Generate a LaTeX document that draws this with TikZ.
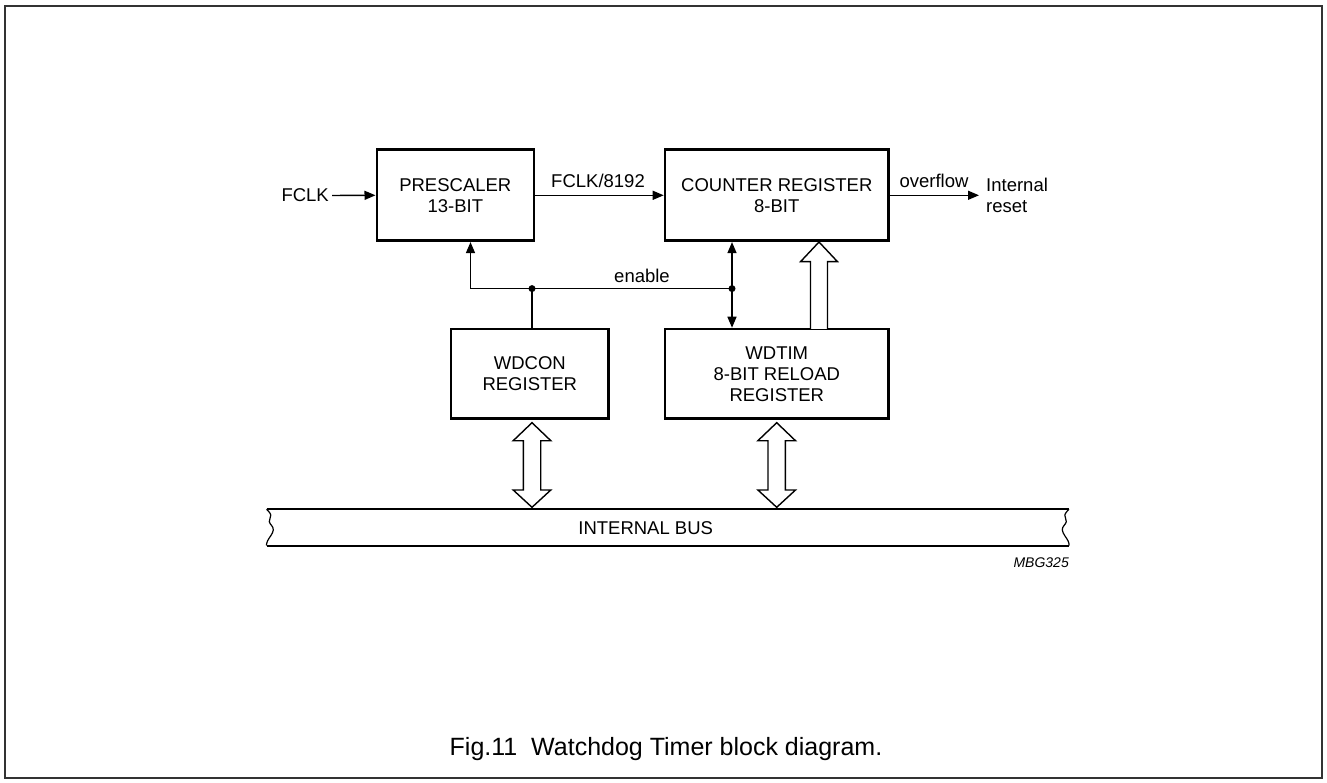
\documentclass[tikz,border=0pt]{standalone}
\usepackage{fontspec}
\setmainfont{Liberation Sans}
\usetikzlibrary{arrows.meta,calc}
\begin{document}
\begin{tikzpicture}[x=1pt,y=-1pt,
  blk/.style={draw,line width=2.6pt,inner sep=0pt,align=center,font=\fontsize{18.5}{21}\selectfont},
  sig/.style={line width=1.4pt},
  arr/.style={sig,-{Triangle[length=11pt,width=9pt]}},
  darr/.style={sig,{Triangle[length=11pt,width=9pt]}-{Triangle[length=11pt,width=9pt]}},
  lbl/.style={inner sep=0pt,font=\fontsize{18.5}{21}\selectfont},
  hollow/.style={draw,line width=1.4pt,fill=white,line join=miter},
  dotnode/.style={circle,fill,inner sep=0pt,minimum size=7pt},
  busline/.style={line width=2pt},
  wave/.style={line width=1.2pt}
]
\useasboundingbox (0,0) rectangle (1327,783);
\draw[line width=1.5pt,black!80] (5,6) rectangle (1322,778);

% blocks
\node[blk,minimum width=157pt,minimum height=91pt] (presc) at (455.3,195.3) {PRESCALER\\13-BIT};
\node[blk,minimum width=223.6pt,minimum height=91pt] (cnt) at (776.8,195.3) {COUNTER REGISTER\\8-BIT};
\node[blk,minimum width=157.5pt,minimum height=89.5pt] (wdcon) at (529.8,373.8) {WDCON\\REGISTER};
\node[blk,minimum width=223.6pt,minimum height=89.5pt] (wdtim) at (776.8,373.8) {WDTIM\\8-BIT RELOAD\\REGISTER};

% clock path
\node[lbl,anchor=east] (fclk) at (329,195.5) {FCLK};
\draw[arr,shorten <=3pt] (fclk.east) -- (presc.west);
\draw[arr] (presc.east) -- (cnt.west);
\node[lbl] (f8192) at (598,181) {FCLK/8192};
\coordinate (out) at (979,195.3);
\draw[arr] (cnt.east) -- (out);
\node[lbl] (ovf) at (934,181) {overflow};
\node[lbl,anchor=west,align=left] (ires) at (986,195) {Internal\\reset};

% enable
\coordinate (pL) at (470.5,288.6);
\coordinate (j1) at (532,288.6);
\coordinate (j2) at (732,288.6);
\draw[sig] (j2) -- (pL);
\draw[arr] (pL) -- (pL |- presc.south);
\draw[sig] (wdcon.north -| j1) -- (j1);
\draw[darr] (j2 |- wdtim.north) -- (j2 |- cnt.south);
\node[dotnode] (d1) at (j1) {};
\node[dotnode] (d2) at (j2) {};
\node[lbl] (en) at (642,276) {enable};

% reload hollow arrow
\draw[hollow] (810.5,329) -- (810.5,261.7) -- (800.5,261.7) -- (819,242) -- (837.5,261.7) -- (827.5,261.7) -- (827.5,329);

% bidirectional hollow arrows
\foreach \c in {532,776.7}
  \draw[hollow] (\c,422.7) -- (\c+18.8,440.7) -- (\c+8.7,440.7) -- (\c+8.7,490) -- (\c+18.8,490)
    -- (\c,507.3) -- (\c-18.8,490) -- (\c-8.7,490) -- (\c-8.7,440.7) -- (\c-18.8,440.7) -- cycle;

% internal bus
\draw[busline] (266.6,509.3) -- (1069,509.3);
\draw[busline] (266.6,545.5) -- (1069,545.5);
\draw[wave] plot[smooth,tension=0.7] coordinates {(266.6,509.3) (270.8,515) (269.3,521.7) (273.3,530) (267.5,541) (266.6,545.5)};
\draw[wave] plot[smooth,tension=0.7] coordinates {(1069,509.3) (1064.8,515) (1066.3,521.7) (1062.3,530) (1068.1,541) (1069,545.5)};
\node[lbl] (bus) at (645.7,528) {INTERNAL BUS};
\node[inner sep=0pt,anchor=east,font=\fontsize{14}{16}\selectfont\itshape] (code) at (1069,562.8) {MBG325};

% caption
\node[inner sep=0pt,font=\fontsize{25}{28}\selectfont] (cap) at (666,749) {Fig.11\ \ Watchdog Timer block diagram.};
\end{tikzpicture}
\end{document}
